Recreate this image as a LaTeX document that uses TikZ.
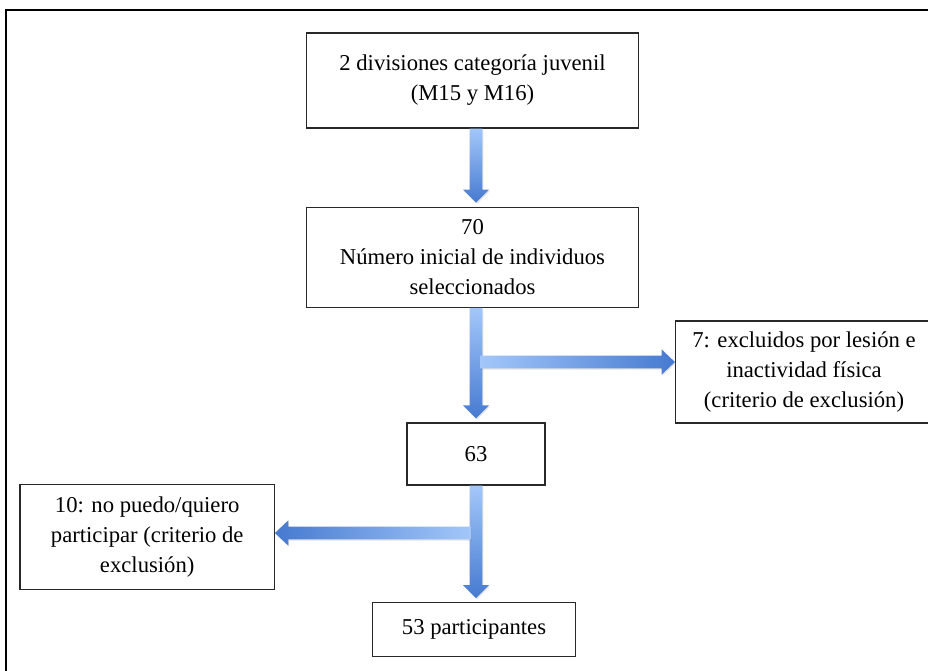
\documentclass[tikz,border=0pt]{standalone}
\usepackage{fontspec}
\setmainfont{Liberation Serif}
\usetikzlibrary{positioning}
\usetikzlibrary{calc}
\usetikzlibrary{shadows}

\definecolor{arrowlight}{RGB}{163,199,250}
\definecolor{arrowdark}{RGB}{70,122,208}
\definecolor{boxline}{RGB}{40,40,40}

% fat shaded arrows: start point, end point (canvas units are pt)
\newcommand\arrowdn[2]{%
  \path[fat, top color=arrowlight, bottom color=arrowdark]
    let \p1=(#1), \p2=(#2) in
    (\x1-4.75pt,\y1) -- (\x1+4.75pt,\y1) -- (\x1+4.75pt,\y2+12.75pt)
    -- (\x1+9.75pt,\y2+12.75pt) -- (\x1,\y2+3pt) -- (\x1-9.75pt,\y2+12.75pt)
    -- (\x1-4.75pt,\y2+12.75pt) -- cycle;}
\newcommand\arrowrt[2]{%
  \path[fat, left color=arrowlight, right color=arrowdark]
    let \p1=(#1), \p2=(#2) in
    (\x1,\y1+4.75pt) -- (\x2-10pt,\y1+4.75pt) -- (\x2-10pt,\y1+9.5pt)
    -- (\x2,\y1) -- (\x2-10pt,\y1-9.5pt) -- (\x2-10pt,\y1-4.75pt)
    -- (\x1,\y1-4.75pt) -- cycle;}
\newcommand\arrowlt[2]{%
  \path[fat, left color=arrowdark, right color=arrowlight]
    let \p1=(#1), \p2=(#2) in
    (\x1,\y1+4.75pt) -- (\x2+10pt,\y1+4.75pt) -- (\x2+10pt,\y1+9.5pt)
    -- (\x2,\y1) -- (\x2+10pt,\y1-9.5pt) -- (\x2+10pt,\y1-4.75pt)
    -- (\x1,\y1-4.75pt) -- cycle;}

\begin{document}
\begin{tikzpicture}[x=0.75pt, y=-0.75pt]
  % definition of the basic styles.
  \tikzstyle{box}=[draw=boxline, line width=0.9pt, inner sep=0pt, align=center,
    font=\fontsize{17}{22.5}\selectfont, text=black]
  \tikzstyle{fat}=[drop shadow={opacity=0.22, shadow xshift=0.7pt, shadow yshift=-0.9pt}]

  % page size and the outer frame (cut by the page)
  \clip (0,0) rectangle (928,671);
  \fill[white] (0,0) rectangle (928,671);
  \draw[line width=1.6pt] (6,10) rectangle (940,690);

  % The boxes
  \node[box, minimum width=248.7pt, minimum height=71.25pt] (div) at (472.5,80.5)
    {2 divisiones categoría juvenil\\(M15 y M16)};
  \node[box, minimum width=248.7pt, minimum height=75pt] (ini) at (472.5,257.3)
    {70\\Número inicial de individuos\\seleccionados};
  \node[box, minimum width=103.5pt, minimum height=46.5pt] (n63) at (476,454) {63};
  \node[box, minimum width=192.75pt, minimum height=76.5pt] (exc1) at (804,372)
    {7: excluidos por lesión e\\inactividad física\\(criterio de exclusión)};
  \node[box, minimum width=190.7pt, minimum height=78.75pt] (exc2) at (147.2,536.8)
    {10: no puedo/quiero\\participar (criterio de\\exclusión)};
  \node[box, minimum width=151.7pt, minimum height=40.5pt] (fin) at (474,629.7)
    {53 participantes};

  % main line downwards
  \arrowdn{div.south -| n63}{ini.north -| n63}
  \arrowdn{ini.south -| n63}{n63.north}
  \arrowdn{n63.south}{fin.north -| n63}

  % the two exclusions
  \coordinate (brr) at (480,362);
  \coordinate (brl) at (471,533);
  \arrowrt{brr}{brr -| exc1.west}
  \arrowlt{brl}{brl -| exc2.east}
\end{tikzpicture}
\end{document}
